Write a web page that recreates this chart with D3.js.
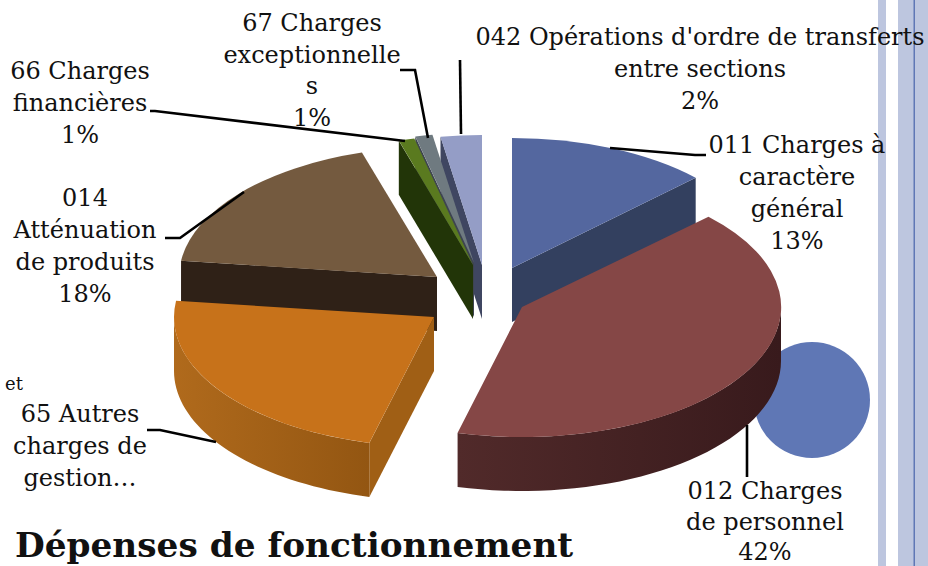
<!DOCTYPE html>
<html><head><meta charset="utf-8">
<script src="https://cdnjs.cloudflare.com/ajax/libs/d3/7.8.5/d3.min.js"></script>
<style>html,body{margin:0;padding:0;background:#fff}svg{display:block}
text{font-family:"DejaVu Serif",serif;fill:#111}</style></head>
<body><svg id="c" width="928" height="566"></svg>
<script>
// data, clockwise from 12 o'clock
const categories = ["011 Charges à caractère général","012 Charges de personnel","65 Autres charges de gestion…","014 Atténuation de produits","66 Charges financières","67 Charges exceptionnelles","042 Opérations d'ordre de transferts entre sections"];
const shares = [12.8, 41.2, 23, 18.3, 1, 1.1, 2.6];
// drawing style
const topColors  = ["#54679f","#854746","#c7721a","#745a3f","#5a7a1f","#6f7a80","#949dc6"];
const sideColors = ["#33405f","#3c1c1e","#a05f15","#2f2117","#223508","#3e4450","#3f4661"];
// exploded layout
const apexX = [512,522,434,437,473,474,482];
const apexY = [268,307,317,277,265,263,265];
const radiusX = [255,259,260,258,255,255,255];
const radiusY = 130, depth = 54;
const paintOrder = [6,5,4,0,3,2,1];
// labels
const labels = [
 {lines:["011 Charges à","caractère","général","13%"],x:797,y:[153,185,217,249]},
 {lines:["012 Charges","de personnel","42%"],x:765,y:[499,530,560]},
 {lines:["65 Autres","charges de","gestion…"],x:80,y:[422,454,486]},
 {lines:["014","Atténuation","de produits","18%"],x:85,y:[206,238,270,302]},
 {lines:["66 Charges","financières","1%"],x:80,y:[79,111,143]},
 {lines:["67 Charges","exceptionnelle","s","1%"],x:312,y:[31,63,94,126]},
 {lines:["042 Opérations d'ordre de transferts","entre sections","2%"],x:700,y:[45,77,109]}
];
const leaders = [
 [[610,148],[695,155],[706,155]],
 [[747,425],[747,477]],
 [[147,430],[160,430],[216,442]],
 [[244,192],[180,238],[165,238]],
 [[405,141],[155,111],[150,111]],
 [[428,138],[415,70],[400,70]],
 [[461,134],[460,60]]
];
const title = "Dépenses de fonctionnement";

const svg = d3.select("#c");
// decoration
svg.append("rect").attr("x",878).attr("y",0).attr("width",8).attr("height",566).attr("fill","#bdc6df");
svg.append("rect").attr("x",898).attr("y",0).attr("width",30).attr("height",566).attr("fill","#bdc6df");
svg.append("rect").attr("x",913.5).attr("y",0).attr("width",1.5).attr("height",566).attr("fill","#5f77b5");
svg.append("circle").attr("cx",812).attr("cy",400).attr("r",58).attr("fill","#5f77b5");

const defs = svg.append("defs");
function grad(id,a,b){
  const g=defs.append("linearGradient").attr("id",id).attr("x1",0).attr("x2",1).attr("y1",0).attr("y2",0);
  g.append("stop").attr("offset",0).attr("stop-color",a);
  g.append("stop").attr("offset",1).attr("stop-color",b);
}
grad("wall1","#512a2a","#381a1c");
grad("wall2","#b06a1c","#935612");

const arcs = d3.pie().sort(null).value(d=>d).startAngle(0).endAngle(2*Math.PI)(shares);
const unitArc = d3.arc().innerRadius(0).outerRadius(1);
const pt = (i,t,dz=0)=>[apexX[i]+radiusX[i]*Math.sin(t), apexY[i]-radiusY*Math.cos(t)+dz];
const line = d3.line();

function wall(i,a0,a1){
  const s = d3.range(0,41).map(k=>a0+(a1-a0)*k/40);
  return line([...s.map(t=>pt(i,t)),...s.reverse().map(t=>pt(i,t,depth))])+"Z";
}
function cut(i,t){
  return line([[apexX[i],apexY[i]],pt(i,t),pt(i,t,depth),[apexX[i],apexY[i]+depth]])+"Z";
}

const chart = svg.append("g");
paintOrder.forEach(i=>{
  const d = arcs[i], a0=d.startAngle, a1=d.endAngle;
  const g = chart.append("g");
  if(Math.sin(a0)<0) g.append("path").attr("d",cut(i,a0)).attr("fill",sideColors[i]);
  if(Math.sin(a1)>0) g.append("path").attr("d",cut(i,a1)).attr("fill",sideColors[i]);
  const w0=Math.max(a0,Math.PI/2), w1=Math.min(a1,1.5*Math.PI);
  if(w1>w0) g.append("path").attr("d",wall(i,w0,w1)).attr("fill",i===1?"url(#wall1)":i===2?"url(#wall2)":sideColors[i]);
  g.append("path").attr("d",unitArc(d))
    .attr("transform",`translate(${apexX[i]},${apexY[i]}) scale(${radiusX[i]},${radiusY})`)
    .attr("fill",topColors[i]);
});

svg.append("g").selectAll("path").data(leaders).join("path")
  .attr("d",d=>line(d)).attr("fill","none").attr("stroke","#000").attr("stroke-width",2.6);

const tg = svg.append("g").attr("font-size",24).attr("text-anchor","middle");
labels.forEach(l=>l.lines.forEach((s,k)=>{
  tg.append("text").attr("x",l.x).attr("y",l.y[k]).text(s);
}));
svg.append("text").attr("x",5).attr("y",390).attr("font-size",18).text("et");
svg.append("text").attr("x",15).attr("y",557).attr("font-size",34.3).attr("font-weight","bold").text(title);
</script></body></html>
